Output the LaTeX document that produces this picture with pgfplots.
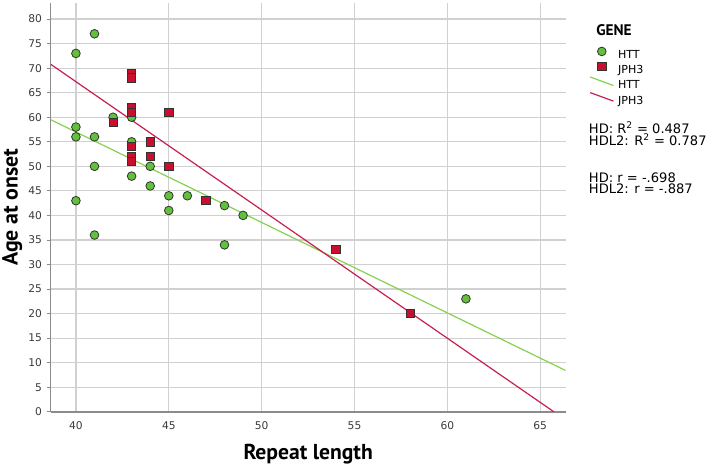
\documentclass[border=0pt]{standalone}
\usepackage{pgfplots}
\pgfplotsset{compat=1.18}
\usepackage{fontspec}
\setmainfont{DejaVu Sans}
\newfontfamily\labelfont{PT Sans}

\definecolor{httfill}{HTML}{62C13A}
\definecolor{jphfill}{HTML}{C8102E}
\definecolor{httline}{HTML}{86D150}
\definecolor{jphline}{HTML}{C81F4E}
\definecolor{gridgray}{HTML}{D0D0D0}
\definecolor{axisgray}{HTML}{8C8C8C}
\definecolor{ticktext}{HTML}{3A3A3A}

% legend symbols: a centred marker, or a short slanted stroke
\pgfplotsset{
  mark legend/.style={legend image code/.code={
    \path[draw=none, fill=none] (0pt,-2.2pt) rectangle (17.5pt,6.5pt);
    \draw[##1] plot coordinates {(8.75pt,2.9pt)};}},
  fit legend/.style={legend image code/.code={
    \path[draw=none, fill=none] (0pt,-2.2pt) rectangle (17.5pt,6.5pt);
    \draw[##1] (0pt,6.6pt) -- (17.5pt,0.2pt);}},
}

% Age at onset against repeat length, by gene
\pgfplotstableread{
x  y
41 77
40 73
43 60
42 60
40 58
40 56
41 56
43 55
41 50
44 50
43 48
44 46
45 44
46 44
40 43
48 42
49 40
45 41
41 36
48 34
61 23
}\httdata

\pgfplotstableread{
x  y
43 69
43 68
43 62
43 61
45 61
42 59
43 54
44 55
43 52
43 51
44 52
45 50
47 43
54 33
58 20
}\jphdata

% fitted least-squares lines, end points over the x range
\pgfplotstableread{
x      y
38.64  59.5
66.37  8.4
}\httfit

\pgfplotstableread{
x      y
38.64  70.8
65.73  0
}\jphfit

\begin{document}
\begin{tikzpicture}
\path[use as bounding box] (0,0) rectangle (531.75pt,348pt);
\begin{axis}[
  at={(38.0pt,39.2pt)}, anchor=south west,
  scale only axis, width=386.25pt, height=306.5pt,
  xmin=38.64, xmax=66.37, ymin=0, ymax=83.26,
  xtick={40,45,...,65}, ytick={0,5,...,80},
  axis x line*=bottom, axis y line*=left,
  axis line style={-, axisgray},
  x axis line style={line width=1.4pt},
  y axis line style={line width=0.8pt},
  grid=major,
  major grid style={gridgray, line width=0.9pt},
  xtick style={draw=none},
  ytick style={axisgray, line width=0.6pt},
  tick align=outside, major tick length=3pt,
  tick label style={font=\fontsize{8}{9}\selectfont, text=ticktext},
  /pgf/number format/assume math mode=true,
  xticklabel style={yshift=-1pt},
  xlabel={\labelfont\bfseries\fontsize{16.2}{18}\selectfont Repeat length},
  ylabel={\labelfont\bfseries\fontsize{16.4}{18}\selectfont Age at onset},
  xlabel style={yshift=-3.5pt},
  ylabel style={yshift=-2.2pt},
  legend style={
    at={(axis description cs:1.0458,0.894)}, anchor=north west,
    draw=none, fill=none, inner sep=0pt,
    font=\fontsize{8.3}{9}\selectfont,
    row sep=0.3pt, column sep=3pt,
    nodes={inner sep=0pt, text height=6.5pt, text depth=2.2pt},
  },
  legend cell align=left,
]
\addplot[only marks, mark=*, mark size=3.25pt,
  mark options={fill=httfill, draw=black!80, line width=0.6pt}, mark legend]
  table[x=x, y=y] {\httdata};
\addlegendentry{HTT}
\addplot[only marks, mark=square*, mark size=3.1pt,
  mark options={fill=jphfill, draw=black!80, line width=0.6pt}, mark legend]
  table[x=x, y=y] {\jphdata};
\addlegendentry{JPH3}
\addplot[httline, line width=0.9pt, no marks, fit legend]
  table[x=x, y=y] {\httfit};
\addlegendentry{HTT}
\addplot[jphline, line width=0.9pt, no marks, fit legend]
  table[x=x, y=y] {\jphfit};
\addlegendentry{JPH3}
\end{axis}

% legend heading and fit statistics
\node[anchor=base west, inner sep=0pt, font=\labelfont\bfseries\fontsize{11.5}{12}\selectfont]
  at (447pt,321.2pt) {GENE};
\begin{scope}[every node/.style={anchor=base west, inner sep=0pt,
    font=\fontsize{9.8}{10}\selectfont}]
  \node at (441.5pt,247.8pt) {HD: R\textsuperscript{2} = 0.487};
  \node at (441.5pt,238.8pt) {HDL2: R\textsuperscript{2} = 0.787};
  \node at (441.5pt,211.2pt) {HD: r = -.698};
  \node at (441.5pt,203pt)   {HDL2: r = -.887};
\end{scope}
\end{tikzpicture}
\end{document}
